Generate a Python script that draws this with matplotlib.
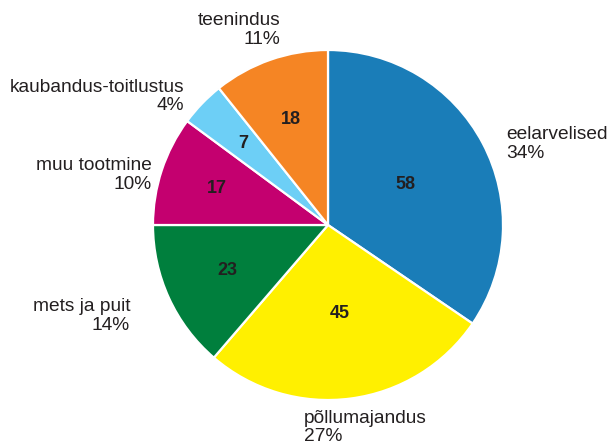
import matplotlib.pyplot as plt
import numpy as np

plt.rcParams['font.family'] = ['Liberation Sans', 'DejaVu Sans']

sectors = ['eelarvelised', 'põllumajandus', 'mets ja puit',
           'muu tootmine', 'kaubandus-toitlustus', 'teenindus']
counts = [58, 45, 23, 17, 7, 18]
shares = ['34%', '27%', '14%', '10%', '4%', '11%']
colors = ['#1a7db8', '#fff000', '#007f3d', '#c4006f', '#6dcff6', '#f58524']

text_color = '#231f20'

fig = plt.figure(figsize=(6.11, 4.46), dpi=100)
ax = fig.add_axes([0, 0, 1, 1])

cx, cy, r = 328, 221, 175
wedges, _ = ax.pie(counts, colors=colors, startangle=90, counterclock=False,
                   center=(cx, cy), radius=r, frame=True,
                   wedgeprops=dict(edgecolor='white', linewidth=1.6))
ax.set_xlim(0, 611)
ax.set_ylim(0, 446)
ax.axis('off')

# how far out the count sits inside each wedge (fraction of radius)
inner = [0.5, 0.51, 0.63, 0.67, 0.67, 0.64]
# category label placement: distance, horizontal alignment
outer = [(1.15, 'left'), (1.15, 'left'), (1.15, 'right'),
         (1.15, 'right'), (1.15, 'right'), (1.12, 'right')]
nudge = [(0, -13), (-50, -3), (-15, -7), (15, -13), (1, -11), (17, 10)]

for w, n, name, pct, f, (d, ha), (nx, ny) in zip(wedges, counts, sectors, shares,
                                                inner, outer, nudge):
    mid = np.deg2rad((w.theta1 + w.theta2) / 2)
    ax.text(cx + f * r * np.cos(mid), cy + f * r * np.sin(mid), str(n),
            ha='center', va='center', fontsize=13, fontweight='bold',
            color=text_color)
    ax.text(cx + d * r * np.cos(mid) + nx, cy + d * r * np.sin(mid) + ny,
            f'{name}\n{pct}', ha=ha, va='center', multialignment=ha,
            fontsize=13.8, color=text_color, linespacing=1.1)

fig.savefig('out.png', dpi=100)
